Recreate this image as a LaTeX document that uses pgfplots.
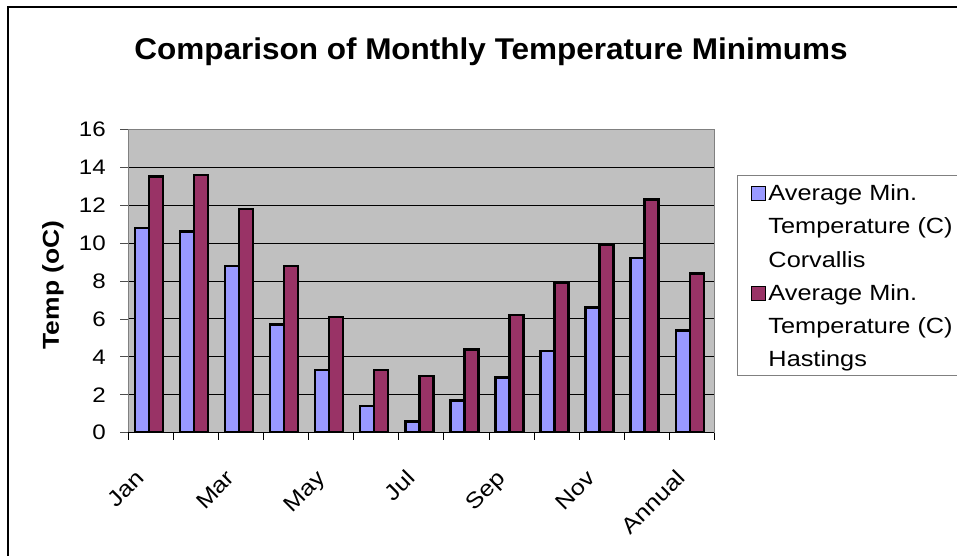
\documentclass[border=0pt]{standalone}
\usepackage{pgfplots}
\pgfplotsset{compat=1.18}
\usepackage{fontspec}
\setmainfont[FakeStretch=1.15]{Liberation Sans}
\newfontfamily\titlefont[FakeStretch=1.05]{Liberation Sans}
\definecolor{corv}{HTML}{9999FF}
\definecolor{hast}{HTML}{993366}
\definecolor{plotbg}{HTML}{C0C0C0}
\definecolor{axgray}{HTML}{808080}
\begin{document}
\begin{tikzpicture}[x=1pt,y=1pt]
\path[use as bounding box] (0,0) rectangle (957,556);
\draw[line width=2.5pt] (8,-5) -- (8,549) -- (970,549);
\node[font=\fontsize{30}{36}\titlefont\bfseries, anchor=base] at (491,496) {Comparison of Monthly Temperature Minimums};
\begin{axis}[
  at={(128.3pt,123.3pt)}, anchor=south west,
  scale only axis, width=586pt, height=303.4pt,
  xmin=-0.5, xmax=12.5, ymin=0, ymax=16,
  ytick={0,2,...,16},
  xtick={0,2,4,6,8,10,12},
  xticklabels={Jan,Mar,May,Jul,Sep,Nov,Annual},
  minor xtick={-0.5,0.5,...,12.5},
  major x tick style={draw=none},
  minor x tick style={black, line width=0.8pt},
  minor tick length=7pt,
  major tick length=8pt,
  tick align=outside,
  xtick pos=bottom, ytick pos=left,
  y tick style={axgray!60!black, line width=0.8pt},
  ymajorgrids, grid style={black, line width=0.9pt},
  axis background/.style={fill=plotbg},
  axis line style={axgray, line width=1pt},
  /pgf/number format/assume math mode=true,
  ticklabel style={font=\fontsize{21}{25}\selectfont},
  yticklabel style={xshift=-11pt},
  xticklabel style={font=\fontsize{22}{26}\selectfont, xshift=-5pt, yshift=-39pt, rotate=45, anchor=base east, inner sep=0pt},
  ylabel={Temp (oC)},
  ylabel style={at={(axis description cs:-0.1285,0.487)}, anchor=center, font=\fontsize{23}{28}\selectfont\bfseries},
  legend style={at={(axis description cs:1.0387,0.8494)}, anchor=north west, draw=axgray, line width=1pt,
    font=\fontsize{22}{26}\selectfont, cells={anchor=base west}, row sep=5.3pt, inner xsep=14pt, inner ysep=3pt,
    nodes={inner xsep=2pt, inner ysep=0pt, text height=22pt, text depth=6pt}},
  after end axis/.code={\draw[black, line width=1pt] (rel axis cs:0,0) -- (rel axis cs:1,0);},
]
\addplot[ybar, bar width=14pt, bar shift=-9pt, fill=corv, draw=black, line width=2.5pt,
  legend image code/.code={\draw[fill=corv, draw=black, line width=1pt] (0pt,0pt) rectangle (14pt,14pt);}]
  coordinates {(0,10.8) (1,10.6) (2,8.8) (3,5.7) (4,3.3) (5,1.4) (6,0.6) (7,1.7) (8,2.9) (9,4.3) (10,6.6) (11,9.2) (12,5.4)};
\addlegendentry{Average Min.}
\addlegendimage{empty legend}
\addlegendentry{Temperature (C)}
\addlegendimage{empty legend}
\addlegendentry{Corvallis}
\addplot[ybar, bar width=14pt, bar shift=5pt, fill=hast, draw=black, line width=2.5pt,
  legend image code/.code={\draw[fill=hast, draw=black, line width=1pt] (0pt,0pt) rectangle (14pt,14pt);}]
  coordinates {(0,13.5) (1,13.6) (2,11.8) (3,8.8) (4,6.1) (5,3.3) (6,3.0) (7,4.4) (8,6.2) (9,7.9) (10,9.9) (11,12.3) (12,8.4)};
\addlegendentry{Average Min.}
\addlegendimage{empty legend}
\addlegendentry{Temperature (C)}
\addlegendimage{empty legend}
\addlegendentry{Hastings}
\end{axis}
\end{tikzpicture}
\end{document}
